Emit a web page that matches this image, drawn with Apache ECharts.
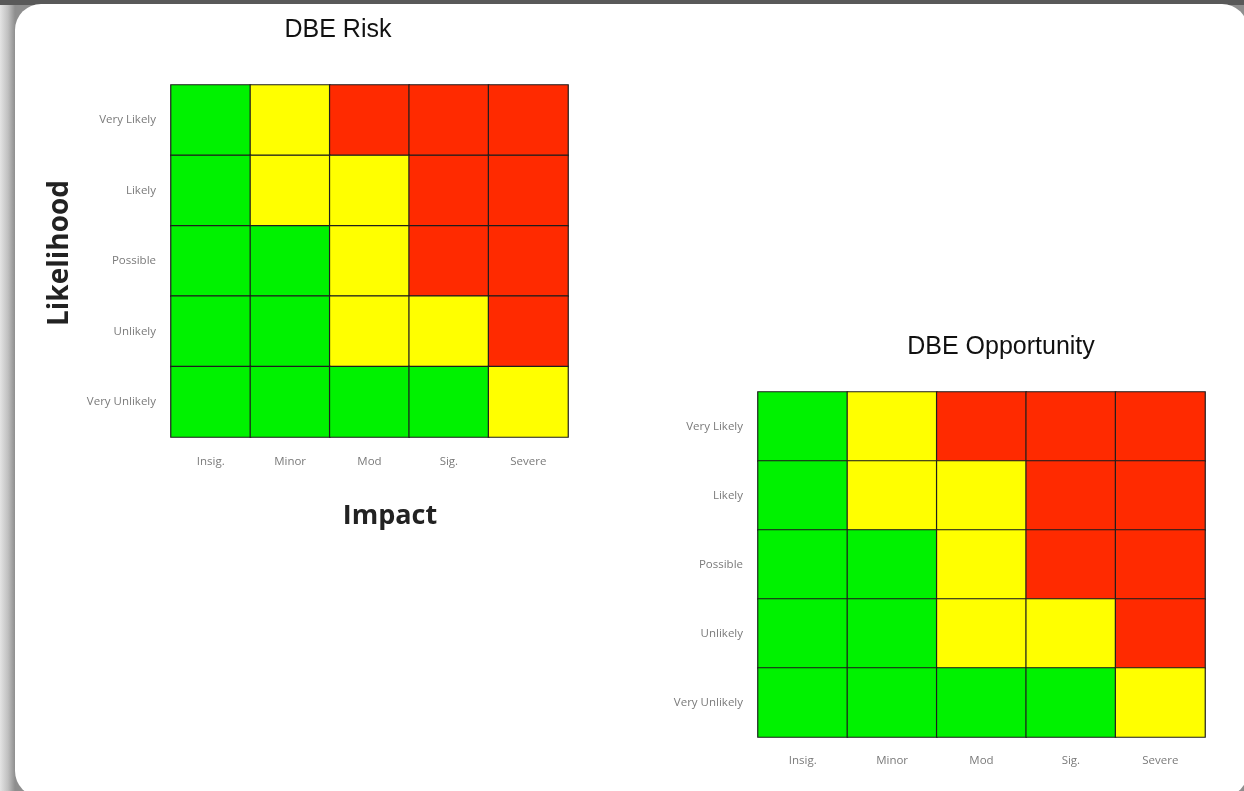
<!DOCTYPE html>
<html>
<head>
<meta charset="utf-8">
<title>DBE Risk / DBE Opportunity</title>
<script src="https://cdn.jsdelivr.net/npm/echarts@6/dist/echarts.min.js"></script>
<style>
  html, body {
    margin: 0;
    padding: 0;
    width: 1244px;
    height: 791px;
    overflow: hidden;
    background: linear-gradient(to right, #e4e4e4 0px, #c0c0c0 8px, #8e8e8e 15px, #8e8e8e 100%);
  }
  #topband {
    position: absolute; left: 0; top: 0; width: 1244px; height: 5px;
    background: #595959;
  }
  #card {
    position: absolute; left: 15px; top: 4px; right: -4px; bottom: -6px;
    background: #fff;
    border-radius: 26px;
  }
  #main {
    position: absolute; left: 0; top: 0; width: 1244px; height: 791px;
  }
</style>
</head>
<body>
<div id="topband"></div>
<div id="card"></div>
<div id="main"></div>
<script>
// categories
const impact = ["Insig.", "Minor", "Mod", "Sig.", "Severe"];
const likelihood = ["Very Likely", "Likely", "Possible", "Unlikely", "Very Unlikely"];

// 1 = green, 2 = yellow, 3 = red ; rows top (Very Likely) to bottom (Very Unlikely)
const riskLevels = [
  [1, 2, 3, 3, 3],
  [1, 2, 2, 3, 3],
  [1, 1, 2, 3, 3],
  [1, 1, 2, 2, 3],
  [1, 1, 1, 1, 2],
];
const opportunityLevels = [
  [1, 2, 3, 3, 3],
  [1, 2, 2, 3, 3],
  [1, 1, 2, 3, 3],
  [1, 1, 2, 2, 3],
  [1, 1, 1, 1, 2],
];

const toCells = (m) => {
  const out = [];
  m.forEach((row, yi) => {
    row.forEach((v, xi) => {
      out.push([xi, yi, v]);
    });
  });
  return out;
};

const myChart = echarts.init(document.getElementById("main"), null, { renderer: "canvas" });

const labelStyle = {
  color: "#7a7a7a",
  fontSize: 11.5,
  fontFamily: "Open Sans",
};

const makeX = (gridIndex, margin) => ({
  type: "category",
  gridIndex: gridIndex,
  data: impact,
  axisLine: { show: false },
  axisTick: { show: false },
  splitLine: { show: false },
  axisLabel: Object.assign({ margin: margin }, labelStyle),
});
const makeY = (gridIndex, margin) => ({
  type: "category",
  gridIndex: gridIndex,
  data: likelihood,
  inverse: true,
  axisLine: { show: false },
  axisTick: { show: false },
  splitLine: { show: false },
  axisLabel: Object.assign({ margin: margin }, labelStyle),
});

const cellStyle = {
  borderColor: "#1e1e1e",
  borderWidth: 1.2,
};

const option = {
  backgroundColor: "transparent",
  animation: false,
  grid: [
    { left: 171, top: 85, width: 397, height: 352 },
    { left: 758, top: 392, width: 447, height: 345 },
  ],
  xAxis: [makeX(0, 19), makeX(1, 18)],
  yAxis: [makeY(0, 15), makeY(1, 15)],
  visualMap: {
    type: "piecewise",
    show: false,
    dimension: 2,
    seriesIndex: [0, 1],
    pieces: [
      { value: 1, color: "#00f200" },
      { value: 2, color: "#ffff00" },
      { value: 3, color: "#ff2a00" },
    ],
  },
  graphic: [
    {
      type: "text",
      x: 338, y: 30,
      style: {
        text: "DBE Risk",
        fill: "#111",
        font: "25px 'Liberation Sans', Arial, sans-serif",
        textAlign: "center",
        textVerticalAlign: "middle",
      },
    },
    {
      type: "text",
      x: 1001, y: 347,
      style: {
        text: "DBE Opportunity",
        fill: "#111",
        font: "25px 'Liberation Sans', Arial, sans-serif",
        textAlign: "center",
        textVerticalAlign: "middle",
      },
    },
    {
      type: "text",
      x: 60, y: 253,
      rotation: Math.PI / 2,
      style: {
        text: "Likelihood",
        fill: "#222",
        font: "bold 28px 'Open Sans', sans-serif",
        textAlign: "center",
        textVerticalAlign: "middle",
      },
    },
    {
      type: "text",
      x: 390, y: 516,
      style: {
        text: "Impact",
        fill: "#222",
        font: "bold 27px 'Open Sans', sans-serif",
        textAlign: "center",
        textVerticalAlign: "middle",
      },
    },
  ],
  series: [
    {
      name: "DBE Risk",
      type: "heatmap",
      xAxisIndex: 0,
      yAxisIndex: 0,
      data: toCells(riskLevels),
      itemStyle: cellStyle,
      emphasis: { disabled: true },
    },
    {
      name: "DBE Opportunity",
      type: "heatmap",
      xAxisIndex: 1,
      yAxisIndex: 1,
      data: toCells(opportunityLevels),
      itemStyle: cellStyle,
      emphasis: { disabled: true },
    },
  ],
};

option && myChart.setOption(option);
</script>
</body>
</html>
